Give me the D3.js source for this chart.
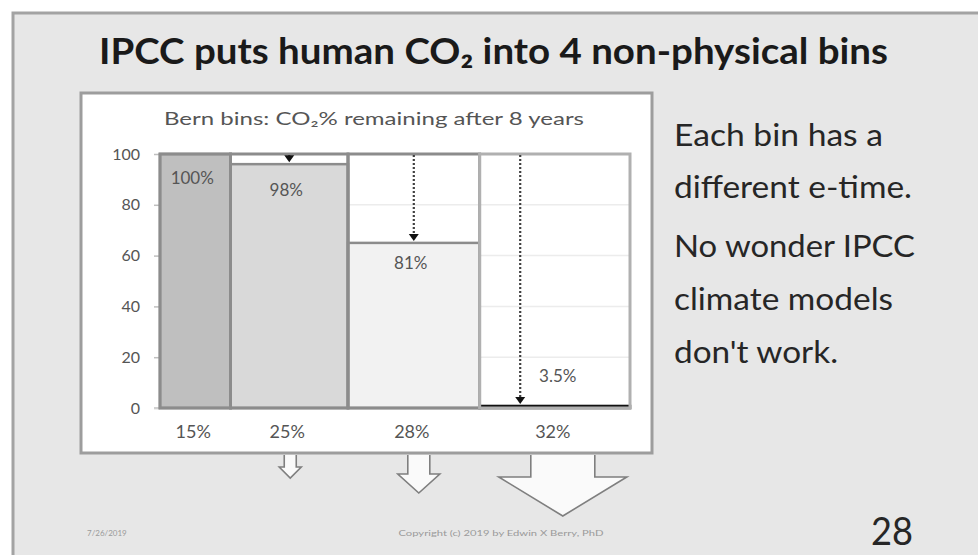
<!DOCTYPE html>
<html><head><meta charset="utf-8">
<script src="https://cdn.jsdelivr.net/npm/d3@7"></script>
<style>
html,body{margin:0;padding:0;background:#fff;}
svg{display:block;}
text{font-family:Lato,"Open Sans","DejaVu Sans",sans-serif;}
</style></head>
<body>
<svg id="c" width="978" height="555"></svg>
<script>
// ---- data ----
const slideTitle = "IPCC puts human CO\u2082 into 4 non-physical bins";
const chartTitle = "Bern bins: CO\u2082% remaining after 8 years";
const binLabels = ["15%", "25%", "28%", "32%"];
const binShares = [15, 25, 28, 32];
const barHeights = [100, 96, 65, 0.8];          // heights as drawn
const barLabels = ["100%", "98%", "81%", "3.5%"];
const barFills = ["#bfbfbf", "#d9d9d9", "#f2f2f2", "#1f1f1f"];
const yTicks = [0, 20, 40, 60, 80, 100];
const sideLines = ["Each bin has a", "different e-time.", "No wonder IPCC", "climate models", "don't work."];
const footerDate = "7/26/2019";
const footerCopy = "Copyright (c) 2019 by Edwin X Berry, PhD";
const pageNum = "28";

const svg = d3.select("#c");

// slide background
svg.append("rect").attr("x", 13).attr("y", 13).attr("width", 980).attr("height", 560)
  .attr("fill", "#e7e7e7").attr("stroke", "#a3a3a3").attr("stroke-width", 3);

// slide title
svg.append("text").attr("x", 99).attr("y", 64)
  .attr("font-size", 36).attr("font-weight", 700).attr("fill", "#1a1a1a")
  .attr("textLength", 789).attr("lengthAdjust", "spacingAndGlyphs")
  .text(slideTitle);

// chart box
svg.append("rect").attr("x", 81).attr("y", 93).attr("width", 571).attr("height", 360)
  .attr("fill", "#ffffff").attr("stroke", "#9d9d9d").attr("stroke-width", 3);

svg.append("text").attr("x", 374).attr("y", 125).attr("text-anchor", "middle")
  .attr("font-size", 17).attr("fill", "#555")
  .attr("textLength", 420).attr("lengthAdjust", "spacingAndGlyphs")
  .text(chartTitle);

// scales
const plot = {l: 160, r: 630, t: 154, b: 408};
const x = d3.scaleLinear().domain([0, d3.sum(binShares)]).range([plot.l, plot.r]);
const y = d3.scaleLinear().domain([0, 100]).range([plot.b, plot.t]);
const cum = d3.cumsum([0, ...binShares]);
const bins = binShares.map((s, i) => ({
  label: binLabels[i], x0: cum[i], x1: cum[i] + s, h: barHeights[i], lab: barLabels[i], fill: barFills[i]
}));

// gridlines
svg.append("g").selectAll("line").data(yTicks.filter(d => d > 0 && d < 100)).join("line")
  .attr("x1", plot.l).attr("x2", plot.r).attr("y1", d => y(d)).attr("y2", d => y(d))
  .attr("stroke", "#ececec").attr("stroke-width", 1.5);

// y axis
const ya = svg.append("g").attr("transform", `translate(${plot.l},0)`)
  .call(d3.axisLeft(y).tickValues(yTicks).tickSize(6).tickPadding(14));
ya.select(".domain").remove();
ya.selectAll(".tick line").attr("stroke", "#bfbfbf").attr("stroke-width", 1.5);
ya.selectAll(".tick text").attr("font-size", 16).attr("fill", "#555")
  .attr("font-family", "Lato,'Open Sans',sans-serif");

// x baseline
svg.append("line").attr("x1", plot.l - 6).attr("x2", plot.r).attr("y1", y(0)).attr("y2", y(0))
  .attr("stroke", "#d0d0d0").attr("stroke-width", 2);

// bars
svg.append("g").selectAll("rect").data(bins).join("rect")
  .attr("x", d => x(d.x0)).attr("width", d => x(d.x1) - x(d.x0))
  .attr("y", d => y(d.h)).attr("height", d => y(0) - y(d.h))
  .attr("fill", d => d.fill)
  .attr("stroke", (d, i) => i === 3 ? "#111" : "#8c8c8c").attr("stroke-width", 2.5);

// bin containers
svg.append("g").selectAll("rect").data(bins).join("rect")
  .attr("x", d => x(d.x0)).attr("width", d => x(d.x1) - x(d.x0))
  .attr("y", y(100)).attr("height", y(0) - y(100))
  .attr("fill", "none").attr("stroke", (d, i) => i === 3 ? "#b0b0b0" : "#8c8c8c").attr("stroke-width", 3);

// dotted arrows from 100 down to bar top
const arrowX = [null, 0.5, 0.5, 0.27];
bins.forEach((d, i) => {
  if (arrowX[i] == null) return;
  const ax = x(d.x0 + (d.x1 - d.x0) * arrowX[i]);
  const yTop = y(100) + 1, yEnd = y(d.h) - 2;
  svg.append("line").attr("x1", ax).attr("x2", ax).attr("y1", yTop).attr("y2", yEnd - 5)
    .attr("stroke", "#404040").attr("stroke-width", 2.2).attr("stroke-dasharray", "2,2");
  svg.append("path")
    .attr("d", `M${ax - 5},${yEnd - 7}L${ax + 5},${yEnd - 7}L${ax},${yEnd}Z`)
    .attr("fill", "#111");
});

// bar labels
const labDy = [30, 32, 26, -24];
svg.append("g").selectAll("text").data(bins).join("text")
  .attr("x", (d, i) => x((d.x0 + d.x1) / 2) + (i === 3 ? 3 : -3))
  .attr("y", (d, i) => y(d.h) + labDy[i])
  .attr("text-anchor", "middle").attr("font-size", 17).attr("fill", "#555")
  .text(d => d.lab);

// x category labels
svg.append("g").selectAll("text").data(bins).join("text")
  .attr("x", d => x((d.x0 + d.x1) / 2) - 2).attr("y", y(0) + 30)
  .attr("text-anchor", "middle").attr("font-size", 18).attr("fill", "#555")
  .text(d => d.label);

// hollow arrows under chart (sized by amount removed)
const hollow = [
  {i: 1, dx: 1, shaft: 6, head: 11, headY: 467, tipY: 478},
  {i: 2, dx: 5, shaft: 11, head: 21, headY: 474, tipY: 493},
  {i: 3, dx: 8, shaft: 32, head: 64, headY: 477, tipY: 516}
];
hollow.forEach(a => {
  const d = bins[a.i];
  const cx = x((d.x0 + d.x1) / 2) + a.dx;
  const top = 455;
  svg.append("path")
    .attr("d", `M${cx - a.shaft},${top}L${cx - a.shaft},${a.headY}L${cx - a.head},${a.headY}L${cx},${a.tipY}L${cx + a.head},${a.headY}L${cx + a.shaft},${a.headY}L${cx + a.shaft},${top}`)
    .attr("fill", "#fafafa").attr("stroke", "#7f7f7f").attr("stroke-width", 1.6);
});

// side text
const sideY = [146, 198, 257, 310, 363];
const sideW = [209, 238, 241, 219, 164];
svg.append("g").selectAll("text").data(sideLines).join("text")
  .attr("x", 674).attr("y", (d, i) => sideY[i])
  .attr("font-size", 31).attr("fill", "#262626")
  .attr("textLength", (d, i) => sideW[i]).attr("lengthAdjust", "spacingAndGlyphs")
  .text(d => d);

// footer
svg.append("text").attr("x", 87).attr("y", 536).attr("font-size", 8).attr("fill", "#9a9a9a").text(footerDate);
svg.append("text").attr("x", 501).attr("y", 536).attr("text-anchor", "middle").attr("font-size", 8)
  .attr("fill", "#9a9a9a").attr("textLength", 205).attr("lengthAdjust", "spacingAndGlyphs").text(footerCopy);
svg.append("text").attr("x", 871).attr("y", 545).attr("font-size", 38).attr("fill", "#262626")
  .attr("textLength", 42).attr("lengthAdjust", "spacingAndGlyphs").text(pageNum);
</script>
</body></html>
